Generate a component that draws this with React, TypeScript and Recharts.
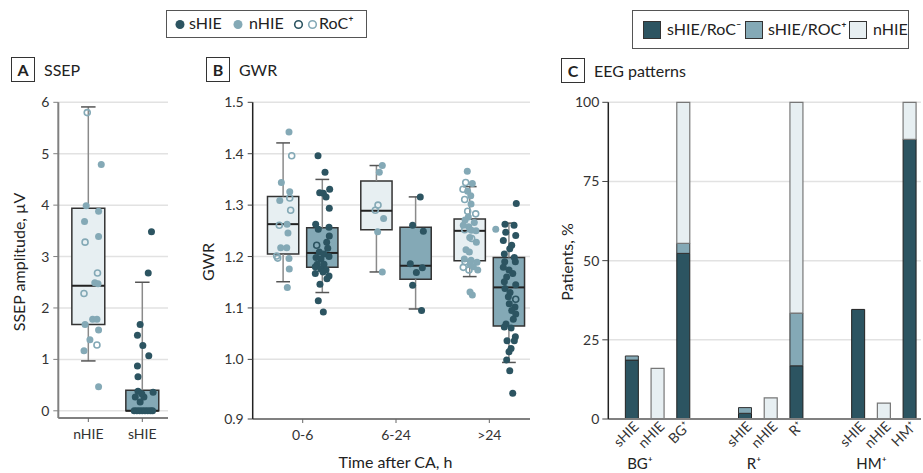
import React from 'react'
import {
  Bar,
  BarChart,
  CartesianGrid,
  ReferenceArea,
  ReferenceLine,
  Scatter,
  ScatterChart,
  XAxis,
  YAxis,
} from 'recharts'

const DARK = '#2c5461'
const MID = '#84a9b6'
const LIGHT = '#e7eff2'
const FONT = 'Lato, "Open Sans", "DejaVu Sans", sans-serif'
const GRID = '#e2e2e2'

// Panel A, SSEP amplitude. points: [value, jitter, RoC+ (1 = open circle)]
const ssepGroups = ['nHIE', 'sHIE']
const ssepTicks = [0, 1, 2, 3, 4, 5, 6]
const ssepNhiePts = [
  [5.8, -0.02, 1], [4.79, 0.24, 0], [3.99, -0.04, 0], [3.88, 0.19, 0], [3.68, -0.07, 0],
  [3.39, 0.19, 0], [3.28, -0.06, 1], [2.68, 0.17, 1], [2.49, 0.12, 0], [2.47, 0.18, 0],
  [2.28, -0.08, 1], [1.78, 0.08, 0], [1.78, 0.16, 0], [1.68, -0.06, 0], [1.57, 0.19, 0],
  [1.38, 0.03, 0], [1.28, 0.16, 1], [1.17, -0.08, 0], [0.47, 0.19, 0],
]
const ssepShiePts = [
  [3.48, 0.17, 0], [2.68, 0.11, 0], [1.68, -0.04, 0], [1.47, -0.09, 0], [1.27, 0.01, 0],
  [1.07, 0.12, 0], [0.87, -0.09, 0], [0.66, -0.08, 0], [0.38, -0.08, 0], [0.36, 0.2, 0],
  [0.27, -0.13, 0], [0.27, 0.03, 0], [0.17, -0.04, 0], [0.33, -0.01, 0], [0, -0.15, 0],
  [0, -0.1, 0], [0, -0.05, 0], [0, 0, 0], [0, 0.05, 0], [0, 0.1, 0], [0, 0.15, 0], [0, 0.19, 0],
]
// box stats: [lower whisker, Q1, median, Q3, upper whisker]
const ssepNhieBox = [0.97, 1.68, 2.43, 3.94, 5.91]
const ssepShieBox = [0, 0, 0, 0.4, 2.5]

// Panel B, GWR by time after CA
const gwrGroups = ['0-6', '6-24', '>24']
const gwrTicks = [0.884, 1.0, 1.1, 1.2, 1.3, 1.4, 1.5]
const gwrNhieBox = [
  [1.151, 1.205, 1.263, 1.317, 1.421],
  [1.17, 1.252, 1.289, 1.347, 1.377],
  [1.161, 1.192, 1.25, 1.273, 1.336],
]
const gwrShieBox = [
  [1.13, 1.179, 1.207, 1.256, 1.35],
  [1.098, 1.156, 1.182, 1.257, 1.316],
  [0.994, 1.065, 1.14, 1.198, 1.265],
]
const gwrNhiePts = [
  [
    [1.442, -0.147, 0], [1.396, -0.118, 1], [1.344, -0.229, 0], [1.326, -0.139, 0], [1.314, -0.139, 1],
    [1.309, -0.246, 0], [1.29, -0.129, 1], [1.261, -0.251, 1], [1.263, -0.168, 0], [1.246, -0.158, 0],
    [1.217, -0.236, 0], [1.217, -0.171, 0], [1.197, -0.268, 1], [1.201, -0.279, 1], [1.196, -0.147, 0],
    [1.176, -0.144, 0], [1.14, -0.165, 0],
  ],
  [
    [1.377, -0.147, 0], [1.364, -0.179, 0], [1.3, -0.193, 1], [1.29, -0.222, 1], [1.274, -0.133, 0],
    [1.248, -0.197, 0], [1.17, -0.147, 0],
  ],
  [
    [1.366, -0.236, 0], [1.344, -0.253, 1], [1.342, -0.182, 0], [1.331, -0.282, 1], [1.327, -0.232, 0],
    [1.318, -0.199, 0], [1.311, -0.264, 1], [1.302, -0.196, 0], [1.288, -0.232, 1], [1.283, -0.146, 1],
    [1.277, -0.225, 0], [1.271, -0.26, 0], [1.266, -0.161, 0], [1.261, -0.279, 0], [1.258, -0.221, 0],
    [1.252, -0.264, 1], [1.251, -0.193, 0], [1.25, -0.143, 0], [1.237, -0.21, 0], [1.235, -0.189, 1],
    [1.228, -0.139, 0], [1.213, -0.25, 0], [1.209, -0.214, 0], [1.195, -0.268, 0], [1.193, -0.196, 0],
    [1.19, -0.26, 1], [1.189, -0.132, 0], [1.185, -0.204, 0], [1.18, -0.171, 0], [1.179, -0.279, 1],
    [1.174, -0.218, 1], [1.174, -0.124, 0], [1.131, -0.207, 0], [1.125, -0.182, 0], [1.253, 0.069, 0],
  ],
]
const gwrShiePts = [
  [
    [1.396, 0.164, 0], [1.364, 0.239, 0], [1.331, 0.289, 0], [1.324, 0.182, 0], [1.323, 0.221, 0],
    [1.316, 0.25, 0], [1.294, 0.285, 0], [1.263, 0.139, 0], [1.253, 0.167, 0], [1.257, 0.282, 0],
    [1.24, 0.285, 0], [1.222, 0.15, 1], [1.228, 0.257, 0], [1.216, 0.268, 0], [1.209, 0.178, 0],
    [1.205, 0.228, 0], [1.198, 0.143, 0], [1.2, 0.282, 0], [1.195, 0.196, 0], [1.185, 0.156, 0],
    [1.185, 0.228, 0], [1.18, 0.135, 0], [1.176, 0.193, 0], [1.174, 0.25, 0], [1.167, 0.135, 0],
    [1.17, 0.218, 0], [1.162, 0.282, 0], [1.157, 0.26, 0], [1.146, 0.185, 0], [1.114, 0.167, 0],
    [1.092, 0.221, 0],
  ],
  [
    [1.316, 0.26, 0], [1.261, 0.178, 0], [1.249, 0.293, 0], [1.186, 0.153, 0], [1.178, 0.282, 0],
    [1.169, 0.218, 0], [1.144, 0.178, 0], [1.095, 0.274, 0],
  ],
  [
    [1.303, 0.289, 0], [1.263, 0.168, 0], [1.261, 0.265, 0], [1.247, 0.176, 0], [1.241, 0.283, 0],
    [1.231, 0.15, 0], [1.222, 0.24, 0], [1.215, 0.219, 0], [1.205, 0.161, 0], [1.198, 0.268, 0],
    [1.19, 0.165, 0], [1.19, 0.279, 0], [1.179, 0.15, 0], [1.174, 0.211, 0], [1.167, 0.251, 0],
    [1.16, 0.186, 0], [1.151, 0.161, 0], [1.145, 0.283, 0], [1.138, 0.168, 0], [1.13, 0.222, 0],
    [1.117, 0.283, 1], [1.122, 0.204, 0], [1.108, 0.214, 0], [1.102, 0.275, 0], [1.095, 0.24, 0],
    [1.088, 0.283, 0], [1.078, 0.257, 0], [1.069, 0.179, 0], [1.063, 0.161, 0], [1.061, 0.233, 0],
    [1.044, 0.279, 0], [1.036, 0.19, 0], [1.036, 0.268, 0], [1.021, 0.233, 0], [1.015, 0.211, 0],
    [0.999, 0.186, 0], [0.978, 0.219, 0], [0.934, 0.251, 0],
  ],
]

// Panel C, EEG patterns (% of patients)
const eegPatterns = ['BG⁺', 'R⁺', 'HM⁺']
const eegBarLabels = ['sHIE', 'nHIE', 'BG⁺', 'sHIE', 'nHIE', 'R⁺', 'sHIE', 'nHIE', 'HM⁺']
const eegRocNeg = [18.6, 0, 52.3, 1.8, 0, 16.8, 34.6, 0, 88.3]
const eegRocPos = [1.3, 0, 3.2, 1.8, 0, 16.6, 0, 0, 0]
const eegNhie = [0, 16.0, 44.5, 0, 6.7, 66.6, 0, 5.0, 11.7]
const eegTicks = [0, 25, 50, 75, 100]

const GROUP_STEP = 4.4
const eegData = eegBarLabels.map((label, i) => ({
  pos: Math.floor(i / 3) * GROUP_STEP + (i % 3),
  label,
  rocNeg: eegRocNeg[i],
  rocPos: eegRocPos[i],
  nhie: eegNhie[i],
}))

const toPoints = (pts: number[][], center: number, open: number) =>
  pts.filter((p) => p[2] === open).map((p) => ({ x: center + p[1], y: p[0] }))

const filledDot = (color: string) => (p: any) => <circle cx={p.cx} cy={p.cy} r={3.5} fill={color} />
const openDot = (color: string) => (p: any) => (
  <circle cx={p.cx} cy={p.cy} r={3} fill="none" stroke={color} strokeWidth={1.6} />
)

const boxParts = (key: string, cx: number, w: number, s: number[], fill: string) => {
  const [lo, q1, med, q3, hi] = s
  const cap = w * 0.22
  return [
    <ReferenceLine key={key + 'wl'} segment={[{ x: cx, y: lo }, { x: cx, y: q1 }]} stroke="#8a8a8a" strokeWidth={1.5} />,
    <ReferenceLine key={key + 'wh'} segment={[{ x: cx, y: q3 }, { x: cx, y: hi }]} stroke="#8a8a8a" strokeWidth={1.5} />,
    <ReferenceLine key={key + 'cl'} segment={[{ x: cx - cap, y: lo }, { x: cx + cap, y: lo }]} stroke="#555" strokeWidth={1.5} />,
    <ReferenceLine key={key + 'ch'} segment={[{ x: cx - cap, y: hi }, { x: cx + cap, y: hi }]} stroke="#555" strokeWidth={1.5} />,
    <ReferenceArea key={key + 'b'} x1={cx - w / 2} x2={cx + w / 2} y1={q1} y2={q3} fill={fill} fillOpacity={1} stroke="#333" strokeWidth={1.5} />,
    <ReferenceLine key={key + 'm'} segment={[{ x: cx - w / 2, y: med }, { x: cx + w / 2, y: med }]} stroke="#222" strokeWidth={2} />,
  ]
}

const tickStyle = { fill: '#333', fontSize: 14 }

const PanelTitle = ({ left, top, letter, text }: { left: number; top: number; letter: string; text: string }) => (
  <div style={{ position: 'absolute', left, top, display: 'flex', alignItems: 'center' }}>
    <div
      style={{
        width: 24,
        height: 25,
        boxSizing: 'border-box',
        border: '1.5px solid #333',
        display: 'flex',
        alignItems: 'center',
        justifyContent: 'center',
        fontWeight: 700,
        fontSize: 16,
      }}
    >
      {letter}
    </div>
    <span style={{ marginLeft: 9, fontSize: 16 }}>{text}</span>
  </div>
)

const AxisTitle = ({ x, y, text, rotate, size = 16 }: { x: number; y: number; text: string; rotate?: boolean; size?: number }) => (
  <div
    style={{
      position: 'absolute',
      left: x,
      top: y,
      fontSize: size,
      lineHeight: 1.1,
      whiteSpace: 'nowrap',
      transform: `translate(-50%, -50%)${rotate ? ' rotate(-90deg)' : ''}`,
    }}
  >
    {text}
  </div>
)

const EegTick = (props: any) => {
  const { x, y, index } = props
  return (
    <g transform={`translate(${x + 4},${y + 3})`}>
      <text transform="rotate(-45)" textAnchor="end" dy="0.35em" fill="#333" fontSize={14}>
        {eegBarLabels[index]}
      </text>
    </g>
  )
}

function SsepPanel() {
  return (
    <ScatterChart width={180} height={383} margin={{ top: 12.3, right: 12, bottom: 25, left: 18.3 }}>
      <CartesianGrid vertical={false} stroke={GRID} strokeWidth={1.5} />
      <XAxis
        type="number"
        dataKey="x"
        domain={[-0.556, 1.476]}
        ticks={[0, 1]}
        allowDataOverflow
        tickFormatter={(v) => ssepGroups[Math.round(v)]}
        height={30}
        tickSize={4}
        tickMargin={7}
        tick={tickStyle}
        axisLine={{ stroke: '#808080', strokeWidth: 2 }}
        tickLine={{ stroke: '#666' }}
      />
      <YAxis
        type="number"
        dataKey="y"
        domain={[-0.14, 6]}
        ticks={ssepTicks}
        allowDataOverflow
        width={40}
        tickSize={5}
        tickMargin={4}
        tick={tickStyle}
        axisLine={{ stroke: '#808080', strokeWidth: 2 }}
        tickLine={{ stroke: '#808080' }}
      />
      {boxParts('an', 0, 0.61, ssepNhieBox, LIGHT)}
      {boxParts('as', 1, 0.61, ssepShieBox, MID)}
      <Scatter data={toPoints(ssepNhiePts, 0, 0)} shape={filledDot(MID)} isAnimationActive={false} />
      <Scatter data={toPoints(ssepNhiePts, 0, 1)} shape={openDot(MID)} isAnimationActive={false} />
      <Scatter data={toPoints(ssepShiePts, 1, 0)} shape={filledDot(DARK)} isAnimationActive={false} />
    </ScatterChart>
  )
}

function GwrPanel() {
  const off = 0.21
  const bw = 0.335
  return (
    <ScatterChart width={370} height={383} margin={{ top: 12.3, right: 20, bottom: 24, left: 32.7 }}>
      <CartesianGrid vertical={false} stroke={GRID} strokeWidth={1.5} />
      <XAxis
        type="number"
        dataKey="x"
        domain={[-0.536, 2.436]}
        ticks={[0, 1, 2]}
        allowDataOverflow
        tickFormatter={(v) => gwrGroups[Math.round(v)]}
        height={30}
        tickSize={4}
        tickMargin={7}
        tick={tickStyle}
        axisLine={{ stroke: '#808080', strokeWidth: 2 }}
        tickLine={{ stroke: '#666' }}
      />
      <YAxis
        type="number"
        dataKey="y"
        domain={[0.884, 1.5]}
        ticks={gwrTicks}
        allowDataOverflow
        width={40}
        tickSize={5}
        tickMargin={4}
        tick={tickStyle}
        tickFormatter={(v) => (v < 0.95 ? '0.9' : v.toFixed(1))}
        axisLine={{ stroke: '#222', strokeWidth: 1.5 }}
        tickLine={{ stroke: '#444' }}
      />
      {gwrGroups.map((_, g) => boxParts('bn' + g, g - off, bw, gwrNhieBox[g], LIGHT))}
      {gwrGroups.map((_, g) => boxParts('bs' + g, g + off, bw, gwrShieBox[g], MID))}
      {gwrGroups.map((_, g) => (
        <Scatter key={'nf' + g} data={toPoints(gwrNhiePts[g], g, 0)} shape={filledDot(MID)} isAnimationActive={false} />
      ))}
      {gwrGroups.map((_, g) => (
        <Scatter key={'no' + g} data={toPoints(gwrNhiePts[g], g, 1)} shape={openDot(MID)} isAnimationActive={false} />
      ))}
      {gwrGroups.map((_, g) => (
        <Scatter key={'sf' + g} data={toPoints(gwrShiePts[g], g, 0)} shape={filledDot(DARK)} isAnimationActive={false} />
      ))}
      {gwrGroups.map((_, g) => (
        <Scatter key={'so' + g} data={toPoints(gwrShiePts[g], g, 1)} shape={openDot(DARK)} isAnimationActive={false} />
      ))}
    </ScatterChart>
  )
}

function EegPanel() {
  return (
    <BarChart width={373} height={383} data={eegData} margin={{ top: 12.3, right: 2, bottom: 0, left: 18.3 }} barSize={13}>
      <CartesianGrid vertical={false} stroke={GRID} strokeWidth={1.5} />
      <XAxis
        type="number"
        dataKey="pos"
        domain={[-0.93, 11.23]}
        ticks={eegData.map((d) => d.pos)}
        interval={0}
        allowDataOverflow
        height={54}
        tickLine={false}
        tickSize={0}
        tick={<EegTick />}
        axisLine={{ stroke: '#808080', strokeWidth: 2 }}
      />
      <YAxis
        type="number"
        domain={[0, 100]}
        ticks={eegTicks}
        width={40}
        tickSize={6}
        tickMargin={3}
        tick={tickStyle}
        axisLine={{ stroke: '#222', strokeWidth: 1.5 }}
        tickLine={{ stroke: '#444' }}
      />
      <Bar dataKey="rocNeg" stackId="a" fill={DARK} stroke="#222" strokeWidth={1} isAnimationActive={false} />
      <Bar dataKey="rocPos" stackId="a" fill={MID} stroke="#333" strokeWidth={1} isAnimationActive={false} />
      <Bar dataKey="nhie" stackId="a" fill={LIGHT} stroke="#777" strokeWidth={1.2} isAnimationActive={false} />
    </BarChart>
  )
}

export default function App() {
  const legendText = { position: 'absolute' as const, fontSize: 16 }
  const swatch = (left: number, color: string) => (
    <div
      style={{
        position: 'absolute',
        left,
        top: 10,
        width: 18,
        height: 18,
        boxSizing: 'border-box',
        border: '1px solid #333',
        background: color,
      }}
    />
  )
  return (
    <div
      style={{
        position: 'absolute',
        left: 0,
        top: 0,
        width: 923,
        height: 473,
        background: '#fff',
        fontFamily: FONT,
        color: '#222',
        overflow: 'hidden',
      }}
    >
      {/* top legend */}
      <div style={{ position: 'absolute', left: 166, top: 10, width: 201, height: 28, boxSizing: 'border-box', border: '1px solid #555' }}>
        <svg width={201} height={28} style={{ position: 'absolute', left: 0, top: 0 }}>
          <circle cx={13} cy={13.5} r={4.5} fill={DARK} />
          <circle cx={71} cy={13.5} r={4.5} fill={MID} />
          <circle cx={131.5} cy={13.5} r={3.8} fill="none" stroke={DARK} strokeWidth={1.6} />
          <circle cx={145.5} cy={13.5} r={3.8} fill="none" stroke={MID} strokeWidth={1.6} />
        </svg>
        <span style={{ ...legendText, top: 2, left: 22 }}>sHIE</span>
        <span style={{ ...legendText, top: 2, left: 82 }}>nHIE</span>
        <span style={{ ...legendText, top: 2, left: 152 }}>RoC⁺</span>
      </div>

      {/* right legend */}
      <div style={{ position: 'absolute', left: 632, top: 10, width: 277, height: 39, boxSizing: 'border-box', border: '1px solid #555' }}>
        {swatch(10, DARK)}
        <span style={{ ...legendText, top: 8, left: 34 }}>sHIE/RoC⁻</span>
        {swatch(111.5, MID)}
        <span style={{ ...legendText, top: 8, left: 135 }}>sHIE/ROC⁺</span>
        {swatch(216, LIGHT)}
        <span style={{ ...legendText, top: 8, left: 240 }}>nHIE</span>
      </div>

      <PanelTitle left={11} top={57} letter="A" text="SSEP" />
      <PanelTitle left={206} top={57} letter="B" text="GWR" />
      <PanelTitle left={561} top={58} letter="C" text="EEG patterns" />

      <div style={{ position: 'absolute', left: 0, top: 90 }}>
        <SsepPanel />
      </div>
      <div style={{ position: 'absolute', left: 180, top: 90 }}>
        <GwrPanel />
      </div>
      <div style={{ position: 'absolute', left: 550, top: 90 }}>
        <EegPanel />
      </div>

      <AxisTitle x={19} y={262} text="SSEP amplitude, µV" rotate />
      <AxisTitle x={207.5} y={262} text="GWR" rotate />
      <AxisTitle x={395.5} y={462} text="Time after CA, h" />
      <AxisTitle x={567} y={262} text="Patients, %" rotate />

      <AxisTitle x={640} y={463} text={eegPatterns[0]} size={15} />
      <AxisTitle x={754} y={463} text={eegPatterns[1]} size={15} />
      <AxisTitle x={871.5} y={463} text={eegPatterns[2]} size={15} />
    </div>
  )
}
